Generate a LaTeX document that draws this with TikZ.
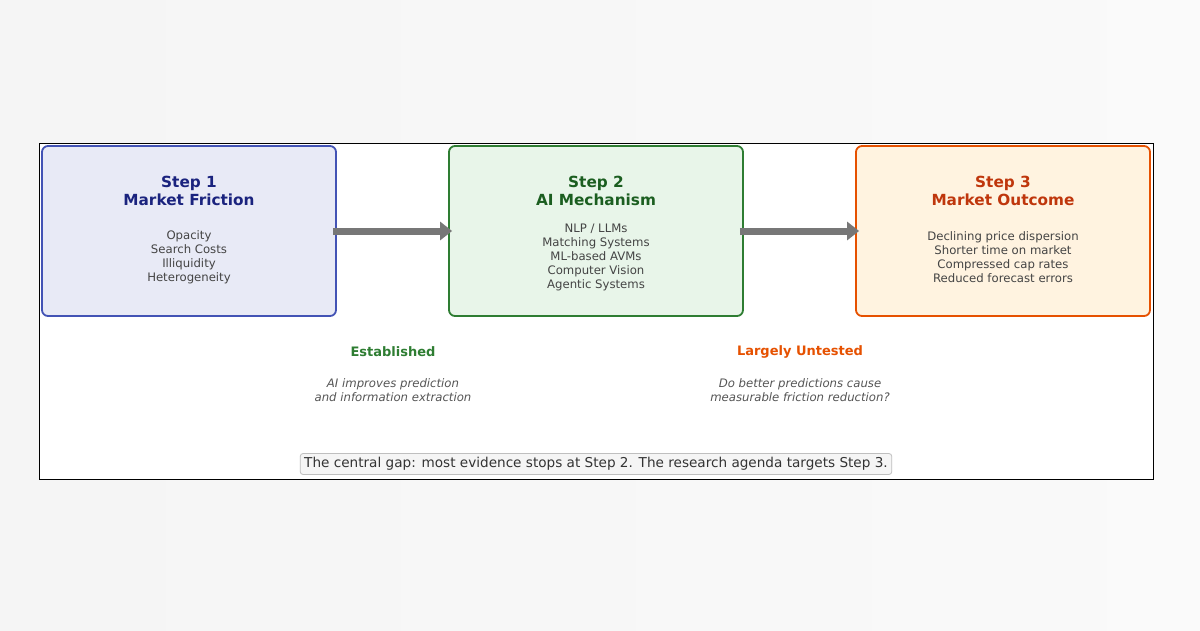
\documentclass[tikz,border=0pt]{standalone}
\usepackage{fontspec}
\setmainfont{DejaVu Sans}
\usetikzlibrary{arrows.meta, positioning}
\definecolor{frictionbg}{HTML}{E8EAF6}
\definecolor{frictionline}{HTML}{4353B5}
\definecolor{frictiontext}{HTML}{1A237E}
\definecolor{mechbg}{HTML}{E8F5E9}
\definecolor{mechline}{HTML}{2E7D32}
\definecolor{mechtext}{HTML}{1B5E20}
\definecolor{outbg}{HTML}{FFF3E0}
\definecolor{outline}{HTML}{E65100}
\definecolor{outtext}{HTML}{BF360C}
\definecolor{bodytext}{HTML}{444444}
\definecolor{notetext}{HTML}{555555}
\definecolor{arrowgray}{HTML}{777777}

\begin{document}
\begin{tikzpicture}[x=1pt, y=-1pt,
    stagebox/.style={rectangle, rounded corners=6pt, line width=1.8pt, minimum width=294pt, minimum height=170pt},
    title/.style={font=\fontsize{15.3}{18}\selectfont\bfseries, align=center},
    body/.style={font=\fontsize{11.7}{14}\selectfont, text=bodytext, align=center},
    note/.style={font=\fontsize{11.7}{13.5}\selectfont\itshape, text=notetext, align=center},
    flow/.style={-{Triangle[length=12pt, width=18pt]}, line width=7pt, draw=arrowgray}
]
\shade[left color=white!92!gray, right color=white!96!gray] (0,0) rectangle (1200,630);
\useasboundingbox (0,0) rectangle (1200,630);
\draw[fill=white, line width=0.9pt] (39,143) rectangle (1153,479);

\node[stagebox, draw=frictionline, fill=frictionbg] (friction) at (189,231) {};
\node[stagebox, draw=mechline, fill=mechbg] (mechanism) at (596,231) {};
\node[stagebox, draw=outline, fill=outbg] (outcome) at (1003,231) {};

\node[title, text=frictiontext] (frictiontitle) at (189,191) {Step 1\\Market Friction};
\node[body] (frictionbody) at (189,257) {Opacity\\Search Costs\\Illiquidity\\Heterogeneity};
\node[title, text=mechtext] (mechtitle) at (596,191) {Step 2\\AI Mechanism};
\node[body] (mechbody) at (596,257) {NLP / LLMs\\Matching Systems\\ML-based AVMs\\Computer Vision\\Agentic Systems};
\node[title, text=outtext] (outtitle) at (1003,191) {Step 3\\Market Outcome};
\node[body] (outbody) at (1003,257) {Declining price dispersion\\Shorter time on market\\Compressed cap rates\\Reduced forecast errors};

\draw[flow, shorten <=-4pt, shorten >=-4pt] (friction.east) -- (mechanism.west);
\draw[flow, shorten <=-4pt, shorten >=-4pt] (mechanism.east) -- (outcome.west);

\node[title, font=\fontsize{13}{15}\selectfont\bfseries, text=mechline] (established) at (393,352) {Established};
\node[note] (establishednote) at (393,390) {AI improves prediction\\and information extraction};
\node[title, font=\fontsize{13}{15}\selectfont\bfseries, text=outline] (untested) at (800,352) {Largely Untested};
\node[note] (untestednote) at (800,390) {Do better predictions cause\\measurable friction reduction?};

\node[draw=black!25, fill=black!4, rounded corners=3pt, line width=0.8pt, inner sep=4pt,
      font=\fontsize{13.6}{16}\selectfont, text=black!80] (gap) at (596,464)
      {The central gap: most evidence stops at Step 2. The research agenda targets Step 3.};
\end{tikzpicture}
\end{document}
